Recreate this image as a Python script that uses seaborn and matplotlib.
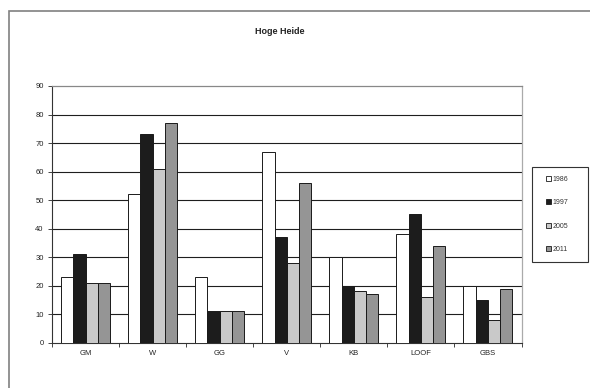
import matplotlib
matplotlib.use("Agg")
import matplotlib.pyplot as plt
from matplotlib.patches import Rectangle
from matplotlib.ticker import FixedLocator
import seaborn as sns
import pandas as pd

categories = ["GM", "W", "GG", "V", "KB", "LOOF", "GBS"]
years = ["1986", "1997", "2005", "2011"]
v1986 = [23, 52, 23, 67, 30, 38, 20]
v1997 = [31, 73, 11, 37, 20, 45, 15]
v2005 = [21, 61, 11, 28, 18, 16, 8]
v2011 = [21, 77, 11, 56, 17, 34, 19]
yticks = [0, 10, 20, 30, 40, 50, 60, 70, 80, 90]
colors = ["#ffffff", "#1c1c1c", "#c9c9c9", "#959595"]

rows = []
for year, vals in zip(years, [v1986, v1997, v2005, v2011]):
    for cat, v in zip(categories, vals):
        rows.append({"categorie": cat, "jaar": year, "aantal": v})
df = pd.DataFrame(rows)

sns.set_theme(style="white")
plt.rcParams["font.family"] = ["Liberation Sans", "DejaVu Sans"]

W, H = 590, 388
fig = plt.figure(figsize=(W / 100, H / 100), dpi=100)
ax = fig.add_axes([52 / W, 1 - 342.7 / H, (521.5 - 52) / W, (342.7 - 86) / H])

sns.barplot(data=df, x="categorie", y="aantal", hue="jaar", order=categories,
            hue_order=years, palette=colors, width=0.73, gap=0,
            edgecolor="#1a1a1a", linewidth=0.7, saturation=1, ax=ax, legend=False, zorder=3)

ax.set_ylim(0, 90)
ax.set_xlim(-0.5, len(categories) - 0.5)
ax.set_yticks(yticks)
ax.set_yticklabels([str(t) for t in yticks], fontsize=5.5, color="#222222")
ax.set_xticks(range(len(categories)))
ax.set_xticklabels(categories, fontsize=5.5, color="#222222")
ax.tick_params(axis="x", which="major", length=0, pad=5)
ax.xaxis.set_minor_locator(FixedLocator([i - 0.5 for i in range(len(categories) + 1)]))
ax.tick_params(axis="x", which="minor", length=3, width=0.7, color="#444444", direction="out", bottom=True)
ax.tick_params(axis="y", length=3, width=0.7, color="#444444", direction="out", left=True, pad=3)
ax.set_xlabel("")
ax.set_ylabel("")

for t in yticks[1:-1]:
    ax.axhline(t, color="#1e1e1e", lw=0.8, zorder=1)
ax.spines["top"].set_color("#888888")
ax.spines["top"].set_linewidth(0.9)
ax.spines["right"].set_color("#aaaaaa")
ax.spines["right"].set_linewidth(0.9)
ax.spines["left"].set_color("#333333")
ax.spines["left"].set_linewidth(0.8)
ax.spines["bottom"].set_color("#333333")
ax.spines["bottom"].set_linewidth(0.8)

fig.text(280 / W, 1 - 31 / H, "Hoge Heide", ha="center", va="center",
         fontsize=6.5, fontweight="bold", color="#222222")

# legend entries without frame, boxed separately
handles = [Rectangle((0, 0), 1, 1, facecolor=c, edgecolor="#1a1a1a", lw=0.6) for c in colors]
leg = fig.legend(handles, years, loc="upper left", bbox_to_anchor=(546 / W, 1 - 176 / H),
                 fontsize=5, frameon=False, handlelength=0.7, handleheight=0.7,
                 handletextpad=0.2, labelspacing=2.35, borderpad=0, borderaxespad=0)
for t in leg.get_texts():
    t.set_color("#333333")
fig.patches.append(Rectangle((532 / W, 1 - 262 / H), 56 / W, 95 / H, transform=fig.transFigure,
                             fill=False, edgecolor="#333333", lw=0.8))

fig.patches.append(Rectangle((8.5 / W, -0.1), 1.2, 1 - 10.5 / H + 0.1, transform=fig.transFigure,
                             fill=False, edgecolor="#808080", lw=1.2))

fig.savefig("out.png", dpi=100)
